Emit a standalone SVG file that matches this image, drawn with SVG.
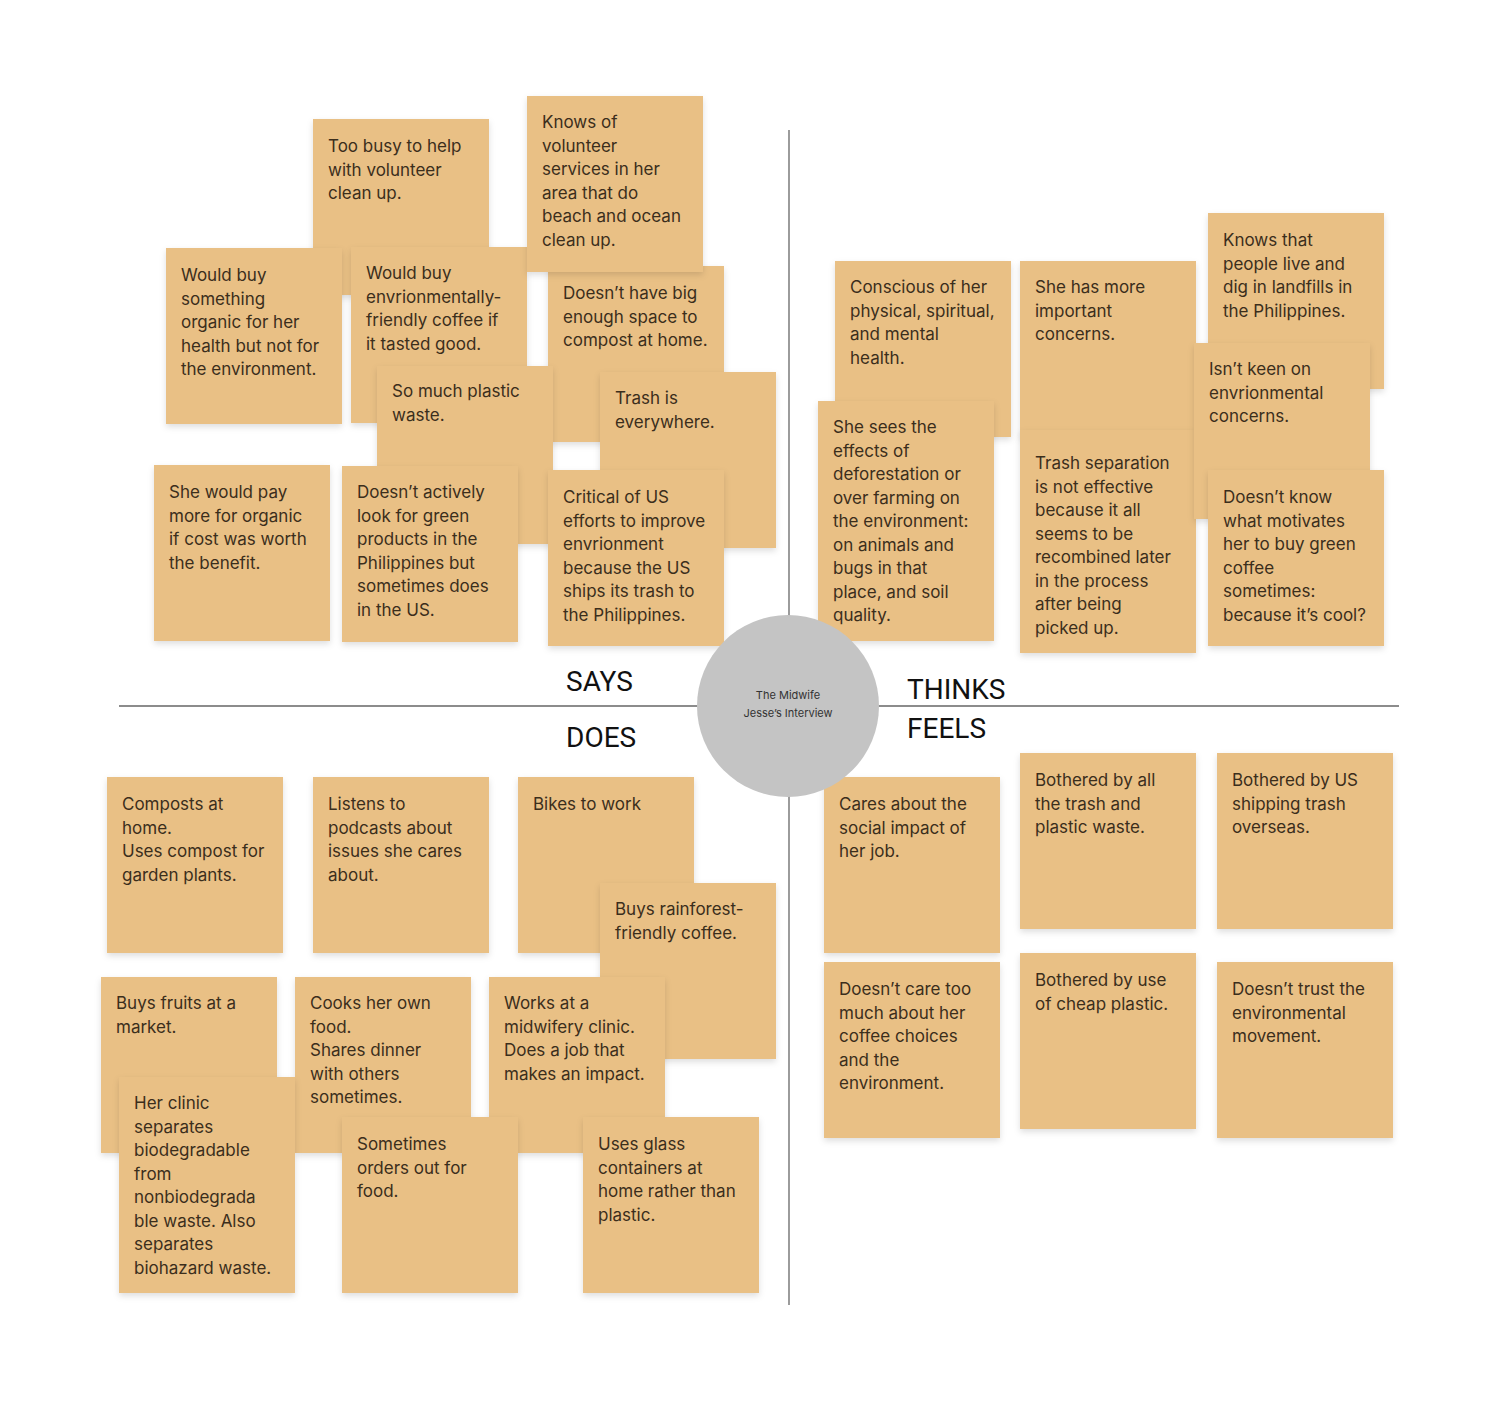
<svg xmlns="http://www.w3.org/2000/svg" width="1495" height="1401" viewBox="0 0 1495 1401">
<defs>
<filter id="sh" x="-10%" y="-10%" width="120%" height="125%">
<feDropShadow dx="0" dy="3" stdDeviation="3" flood-color="#000" flood-opacity="0.13"/>
</filter>
<style>
.n{fill:#E9C085;filter:url(#sh)}
.t{font-family:Inter,"Noto Sans","Liberation Sans",sans-serif;font-size:17px;fill:#3b2e1c}
.lab{font-family:Roboto,"Liberation Sans",sans-serif;font-size:28px;fill:#111}
.ax{stroke:#666;stroke-width:1.3;fill:none}
.ct{font-family:Inter,"Noto Sans","Liberation Sans",sans-serif;font-size:11px;fill:#333;text-anchor:middle}
</style>
</defs>
<rect width="1495" height="1401" fill="#fff"/>
<g id="connectors">
<line class="ax" x1="789" y1="130" x2="789" y2="1305"/>
<line class="ax" x1="119" y1="706" x2="1399" y2="706"/>
</g>
<g id="labels">
<text class="lab" x="566" y="691">SAYS</text>
<text class="lab" x="566" y="747">DOES</text>
<text class="lab" x="907" y="699">THINKS</text>
<text class="lab" x="907" y="738">FEELS</text>
</g>
<!-- SAYS -->
<g id="too-busy"><rect class="n" x="313" y="119" width="176" height="176"/><text class="t" y="152"><tspan x="328">Too busy to help</tspan><tspan x="328" dy="23.5">with volunteer</tspan><tspan x="328" dy="23.5">clean up.</tspan></text></g>
<g id="would-buy-organic"><rect class="n" x="166" y="248" width="176" height="176"/><text class="t" y="281"><tspan x="181">Would buy</tspan><tspan x="181" dy="23.5">something</tspan><tspan x="181" dy="23.5">organic for her</tspan><tspan x="181" dy="23.5">health but not for</tspan><tspan x="181" dy="23.5">the environment.</tspan></text></g>
<g id="would-buy-coffee"><rect class="n" x="351" y="247" width="176" height="176"/><text class="t" y="279"><tspan x="366">Would buy</tspan><tspan x="366" dy="23.5">envrionmentally-</tspan><tspan x="366" dy="23.5">friendly coffee if</tspan><tspan x="366" dy="23.5">it tasted good.</tspan></text></g>
<g id="no-compost-space"><rect class="n" x="548" y="266" width="176" height="176"/><text class="t" y="299"><tspan x="563">Doesn’t have big</tspan><tspan x="563" dy="23.5">enough space to</tspan><tspan x="563" dy="23.5">compost at home.</tspan></text></g>
<g id="knows-volunteer"><rect class="n" x="527" y="96" width="176" height="176"/><text class="t" y="128"><tspan x="542">Knows of</tspan><tspan x="542" dy="23.5">volunteer</tspan><tspan x="542" dy="23.5">services in her</tspan><tspan x="542" dy="23.5">area that do</tspan><tspan x="542" dy="23.5">beach and ocean</tspan><tspan x="542" dy="23.5">clean up.</tspan></text></g>
<g id="plastic-waste"><rect class="n" x="377" y="366" width="176" height="178"/><text class="t" y="397"><tspan x="392">So much plastic</tspan><tspan x="392" dy="23.5">waste.</tspan></text></g>
<g id="trash-everywhere"><rect class="n" x="600" y="372" width="176" height="176"/><text class="t" y="404"><tspan x="615">Trash is</tspan><tspan x="615" dy="23.5">everywhere.</tspan></text></g>
<g id="critical-us"><rect class="n" x="548" y="470" width="176" height="176"/><text class="t" y="503"><tspan x="563">Critical of US</tspan><tspan x="563" dy="23.5">efforts to improve</tspan><tspan x="563" dy="23.5">envrionment</tspan><tspan x="563" dy="23.5">because the US</tspan><tspan x="563" dy="23.5">ships its trash to</tspan><tspan x="563" dy="23.5">the Philippines.</tspan></text></g>
<g id="pay-more"><rect class="n" x="154" y="465" width="176" height="176"/><text class="t" y="498"><tspan x="169">She would pay</tspan><tspan x="169" dy="23.5">more for organic</tspan><tspan x="169" dy="23.5">if cost was worth</tspan><tspan x="169" dy="23.5">the benefit.</tspan></text></g>
<g id="green-products"><rect class="n" x="342" y="466" width="176" height="176"/><text class="t" y="498"><tspan x="357">Doesn’t actively</tspan><tspan x="357" dy="23.5">look for green</tspan><tspan x="357" dy="23.5">products in the</tspan><tspan x="357" dy="23.5">Philippines but</tspan><tspan x="357" dy="23.5">sometimes does</tspan><tspan x="357" dy="23.5">in the US.</tspan></text></g>
<!-- THINKS -->
<g id="conscious"><rect class="n" x="835" y="261" width="176" height="176"/><text class="t" y="293"><tspan x="850">Conscious of her</tspan><tspan x="850" dy="23.5">physical, spiritual,</tspan><tspan x="850" dy="23.5">and mental</tspan><tspan x="850" dy="23.5">health.</tspan></text></g>
<g id="deforestation"><rect class="n" x="818" y="401" width="176" height="240"/><text class="t" y="433"><tspan x="833">She sees the</tspan><tspan x="833" dy="23.5">effects of</tspan><tspan x="833" dy="23.5">deforestation or</tspan><tspan x="833" dy="23.5">over farming on</tspan><tspan x="833" dy="23.5">the environment:</tspan><tspan x="833" dy="23.5">on animals and</tspan><tspan x="833" dy="23.5">bugs in that</tspan><tspan x="833" dy="23.5">place, and soil</tspan><tspan x="833" dy="23.5">quality.</tspan></text></g>
<g id="more-concerns"><rect class="n" x="1020" y="261" width="176" height="176"/><text class="t" y="293"><tspan x="1035">She has more</tspan><tspan x="1035" dy="23.5">important</tspan><tspan x="1035" dy="23.5">concerns.</tspan></text></g>
<g id="trash-separation"><rect class="n" x="1020" y="430" width="176" height="223"/><text class="t" y="469"><tspan x="1035">Trash separation</tspan><tspan x="1035" dy="23.5">is not effective</tspan><tspan x="1035" dy="23.5">because it all</tspan><tspan x="1035" dy="23.5">seems to be</tspan><tspan x="1035" dy="23.5">recombined later</tspan><tspan x="1035" dy="23.5">in the process</tspan><tspan x="1035" dy="23.5">after being</tspan><tspan x="1035" dy="23.5">picked up.</tspan></text></g>
<g id="landfills"><rect class="n" x="1208" y="213" width="176" height="176"/><text class="t" y="246"><tspan x="1223">Knows that</tspan><tspan x="1223" dy="23.5">people live and</tspan><tspan x="1223" dy="23.5">dig in landfills in</tspan><tspan x="1223" dy="23.5">the Philippines.</tspan></text></g>
<g id="not-keen"><rect class="n" x="1194" y="343" width="176" height="176"/><text class="t" y="375"><tspan x="1209">Isn’t keen on</tspan><tspan x="1209" dy="23.5">envrionmental</tspan><tspan x="1209" dy="23.5">concerns.</tspan></text></g>
<g id="motivation"><rect class="n" x="1208" y="470" width="176" height="176"/><text class="t" y="503"><tspan x="1223">Doesn’t know</tspan><tspan x="1223" dy="23.5">what motivates</tspan><tspan x="1223" dy="23.5">her to buy green</tspan><tspan x="1223" dy="23.5">coffee</tspan><tspan x="1223" dy="23.5">sometimes:</tspan><tspan x="1223" dy="23.5">because it’s cool?</tspan></text></g>
<!-- DOES -->
<g id="composts"><rect class="n" x="107" y="777" width="176" height="176"/><text class="t" y="810"><tspan x="122">Composts at</tspan><tspan x="122" dy="23.5">home.</tspan><tspan x="122" dy="23.5">Uses compost for</tspan><tspan x="122" dy="23.5">garden plants.</tspan></text></g>
<g id="podcasts"><rect class="n" x="313" y="777" width="176" height="176"/><text class="t" y="810"><tspan x="328">Listens to</tspan><tspan x="328" dy="23.5">podcasts about</tspan><tspan x="328" dy="23.5">issues she cares</tspan><tspan x="328" dy="23.5">about.</tspan></text></g>
<g id="bikes"><rect class="n" x="518" y="777" width="176" height="176"/><text class="t" y="810"><tspan x="533">Bikes to work</tspan></text></g>
<g id="rainforest-coffee"><rect class="n" x="600" y="883" width="176" height="176"/><text class="t" y="915"><tspan x="615">Buys rainforest-</tspan><tspan x="615" dy="23.5">friendly coffee.</tspan></text></g>
<g id="fruits"><rect class="n" x="101" y="977" width="176" height="176"/><text class="t" y="1009"><tspan x="116">Buys fruits at a</tspan><tspan x="116" dy="23.5">market.</tspan></text></g>
<g id="cooks"><rect class="n" x="295" y="977" width="176" height="176"/><text class="t" y="1009"><tspan x="310">Cooks her own</tspan><tspan x="310" dy="23.5">food.</tspan><tspan x="310" dy="23.5">Shares dinner</tspan><tspan x="310" dy="23.5">with others</tspan><tspan x="310" dy="23.5">sometimes.</tspan></text></g>
<g id="midwifery"><rect class="n" x="489" y="977" width="176" height="176"/><text class="t" y="1009"><tspan x="504">Works at a</tspan><tspan x="504" dy="23.5">midwifery clinic.</tspan><tspan x="504" dy="23.5">Does a job that</tspan><tspan x="504" dy="23.5">makes an impact.</tspan></text></g>
<g id="clinic-waste"><rect class="n" x="119" y="1077" width="176" height="216"/><text class="t" y="1109"><tspan x="134">Her clinic</tspan><tspan x="134" dy="23.5">separates</tspan><tspan x="134" dy="23.5">biodegradable</tspan><tspan x="134" dy="23.5">from</tspan><tspan x="134" dy="23.5">nonbiodegrada</tspan><tspan x="134" dy="23.5">ble waste. Also</tspan><tspan x="134" dy="23.5">separates</tspan><tspan x="134" dy="23.5">biohazard waste.</tspan></text></g>
<g id="orders-out"><rect class="n" x="342" y="1117" width="176" height="176"/><text class="t" y="1150"><tspan x="357">Sometimes</tspan><tspan x="357" dy="23.5">orders out for</tspan><tspan x="357" dy="23.5">food.</tspan></text></g>
<g id="glass-containers"><rect class="n" x="583" y="1117" width="176" height="176"/><text class="t" y="1150"><tspan x="598">Uses glass</tspan><tspan x="598" dy="23.5">containers at</tspan><tspan x="598" dy="23.5">home rather than</tspan><tspan x="598" dy="23.5">plastic.</tspan></text></g>
<!-- FEELS -->
<g id="social-impact"><rect class="n" x="824" y="777" width="176" height="176"/><text class="t" y="810"><tspan x="839">Cares about the</tspan><tspan x="839" dy="23.5">social impact of</tspan><tspan x="839" dy="23.5">her job.</tspan></text></g>
<g id="bothered-trash"><rect class="n" x="1020" y="753" width="176" height="176"/><text class="t" y="786"><tspan x="1035">Bothered by all</tspan><tspan x="1035" dy="23.5">the trash and</tspan><tspan x="1035" dy="23.5">plastic waste.</tspan></text></g>
<g id="bothered-shipping"><rect class="n" x="1217" y="753" width="176" height="176"/><text class="t" y="786"><tspan x="1232">Bothered by US</tspan><tspan x="1232" dy="23.5">shipping trash</tspan><tspan x="1232" dy="23.5">overseas.</tspan></text></g>
<g id="coffee-choices"><rect class="n" x="824" y="962" width="176" height="176"/><text class="t" y="995"><tspan x="839">Doesn’t care too</tspan><tspan x="839" dy="23.5">much about her</tspan><tspan x="839" dy="23.5">coffee choices</tspan><tspan x="839" dy="23.5">and the</tspan><tspan x="839" dy="23.5">environment.</tspan></text></g>
<g id="cheap-plastic"><rect class="n" x="1020" y="953" width="176" height="176"/><text class="t" y="986"><tspan x="1035">Bothered by use</tspan><tspan x="1035" dy="23.5">of cheap plastic.</tspan></text></g>
<g id="distrust"><rect class="n" x="1217" y="962" width="176" height="176"/><text class="t" y="995"><tspan x="1232">Doesn’t trust the</tspan><tspan x="1232" dy="23.5">environmental</tspan><tspan x="1232" dy="23.5">movement.</tspan></text></g>
<!-- center -->
<g id="center">
<circle cx="788" cy="706" r="91" fill="#C4C4C4"/>
<text class="ct" x="788" y="699">The Midwife</text>
<text class="ct" x="788" y="717">Jesse’s Interview</text>
</g>
</svg>
